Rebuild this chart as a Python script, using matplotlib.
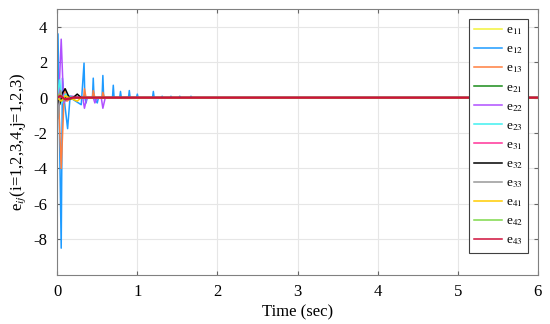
import matplotlib as mpl
mpl.use('Agg')
import matplotlib.pyplot as plt

plt.rcParams['font.family'] = ['Liberation Serif', 'DejaVu Serif']
plt.rcParams['mathtext.fontset'] = 'stix'
plt.rcParams['axes.unicode_minus'] = False

# (time, value) points, per error signal
t11 = [0, 0.02, 0.05, 0.1, 0.3, 6]
e11 = [0, 0.3, -0.2, 0.1, 0, 0]
t12 = [0, 0.01, 0.05, 0.065, 0.09, 0.13, 0.16, 0.3, 0.335, 0.345, 0.36, 0.375, 0.44, 0.45, 0.46,
       0.5, 0.515, 0.56, 0.57, 0.58, 0.69, 0.7, 0.71, 0.78, 0.79, 0.8, 0.89, 0.9, 0.91,
       0.99, 1.0, 1.01, 1.19, 1.2, 1.21, 1.3, 1.31, 1.32, 1.41, 1.42, 1.43, 1.52, 1.53, 1.54,
       1.66, 1.67, 1.68, 6]
e12 = [0, 3.6, -8.5, 1.1, -0.2, -1.75, 0, -0.4, 1.95, 0, -0.3, 0, 0, 1.1, 0,
       -0.3, 0, 0, 1.25, 0, 0, 0.7, 0, 0, 0.35, 0, 0, 0.4, 0,
       0, 0.2, 0, 0, 0.35, 0, 0, 0.08, 0, 0, 0.08, 0, 0, 0.08, 0,
       0, 0.08, 0, 0]
t13 = [0, 0.02, 0.05, 0.09, 0.12, 0.2, 0.33, 0.34, 0.36, 0.44, 0.45, 0.47, 0.56, 0.57, 0.59, 6]
e13 = [0, -0.5, -4.0, 0.5, -0.2, 0, 0, 0.5, 0, 0, 0.4, 0, 0, 0.3, 0, 0]
t21 = [0, 0.03, 0.07, 0.12, 0.3, 6]
e21 = [0, -0.2, 0.2, -0.1, 0, 0]
t22 = [0, 0.01, 0.05, 0.08, 0.15, 0.32, 0.34, 0.37, 0.45, 0.47, 0.5, 0.55, 0.57, 0.6, 6]
e22 = [0, -1.1, 3.3, -0.3, 0.1, 0, -0.6, 0, 0, -0.3, 0, 0, -0.6, 0, 0]
t23 = [0, 0.03, 0.06, 0.1, 0.2, 6]
e23 = [0, 1.0, -0.3, 0.2, 0, 0]
t31 = [0, 0.04, 0.08, 0.15, 6]
e31 = [0, 0.3, -0.2, 0, 0]
t32 = [0, 0.03, 0.07, 0.1, 0.15, 0.2, 0.25, 0.3, 0.4, 6]
e32 = [0, -0.4, 0.3, 0.5, 0, 0, 0.2, 0, 0, 0]
t33 = [0, 0.01, 0.04, 0.08, 0.15, 6]
e33 = [0, -1.2, 0.4, -0.2, 0, 0]
t41 = [0, 0.05, 0.1, 0.2, 0.25, 0.3, 6]
e41 = [0, -0.2, 0.1, -0.1, -0.2, 0, 0]
t42 = [0, 0.03, 0.08, 0.2, 6]
e42 = [0, 0.2, -0.1, 0, 0]
t43 = [0, 0.04, 0.1, 0.2, 6]
e43 = [0, 0.1, -0.1, 0, 0]

names = ['11', '12', '13', '21', '22', '23', '31', '32', '33', '41', '42', '43']
colors = ['#f2f23a', '#1e9bff', '#ff7f3f', '#1a8c1a', '#b050ff', '#40f0f0',
          '#ff3399', '#000000', '#999999', '#ffcc00', '#7fd94a', '#d0103a']
series = [(t11, e11), (t12, e12), (t13, e13), (t21, e21), (t22, e22), (t23, e23),
          (t31, e31), (t32, e32), (t33, e33), (t41, e41), (t42, e42), (t43, e43)]

fig, ax = plt.subplots(figsize=(5.5, 3.24), dpi=100)
fig.subplots_adjust(left=0.104, right=0.978, top=0.972, bottom=0.152)

for (t, v), n, c in zip(series, names, colors):
    ax.plot(t, v, color=c, lw=1.6 if n == '43' else 1.1, label='e$_{%s}$' % n)

ax.set_xlim(0, 6)
ax.set_ylim(-10, 5)
ax.set_xticks(range(0, 7))
ax.set_yticks([-8, -6, -4, -2, 0, 2, 4])
ax.grid(True, color='#e6e6e6', lw=0.8)
ax.tick_params(direction='in', top=True, right=True, labelsize=12, length=3,
               color='#666666', pad=7)
for s in ax.spines.values():
    s.set_color('#808080')
ax.set_xlabel('Time (sec)', fontsize=12, labelpad=3)
ax.set_ylabel('e$_{ij}$(i=1,2,3,4,j=1,2,3)', fontsize=12, labelpad=4)

leg = ax.legend(loc='upper right', bbox_to_anchor=(0.98, 0.963), fontsize=9.5, fancybox=False,
                framealpha=1, edgecolor='#404040', handlelength=2.1, handletextpad=0.3,
                labelspacing=0.46, borderpad=0.4, borderaxespad=0)
leg.get_frame().set_linewidth(0.8)
for h in leg.get_lines():
    h.set_linewidth(1.1)

plt.savefig('out.png')
